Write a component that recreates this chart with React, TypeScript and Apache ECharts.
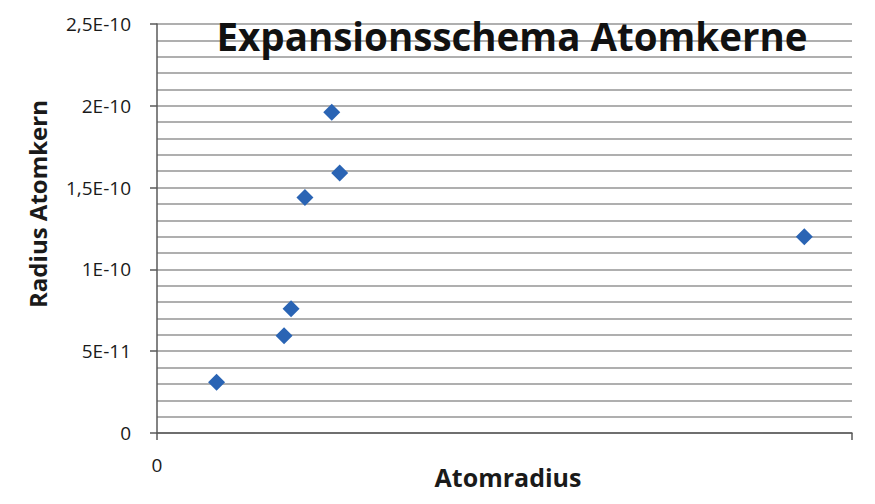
import React, { useEffect, useRef } from "react";
import * as echarts from "echarts";

const titleText = "Expansionsschema Atomkerne";
const xAxisTitle = "Atomradius";
const yAxisTitle = "Radius Atomkern";
// Atomradius (m) (x axis shows only its 0 label)
const atomRadius = [0.3e-10, 0.64e-10, 0.675e-10, 0.745e-10, 0.88e-10, 0.92e-10, 3.26e-10];
// Radius Atomkern (m)
const nucleusRadius = [3.1e-11, 5.95e-11, 7.6e-11, 1.44e-10, 1.96e-10, 1.59e-10, 1.2e-10];
const yTicks = ["0", "5E-11", "1E-10", "1,5E-10", "2E-10", "2,5E-10"];
const xMax = 3.5e-10;
const yMax = 2.5e-10;
const yStep = 5e-11;

const FONT = "'Open Sans', Lato, sans-serif";

export default function App() {
  const ref = useRef<HTMLDivElement>(null);
  useEffect(() => {
    const chart = echarts.init(ref.current!, null, { renderer: "svg" });
    const points = atomRadius.map((x, i) => [x, nucleusRadius[i]]);
    chart.setOption({
      animation: false,
      backgroundColor: "#ffffff",
      grid: { left: 157, right: 23, top: 24, bottom: 71 },
      xAxis: {
        type: "value",
        min: 0,
        max: xMax,
        interval: xMax,
        axisLine: { show: true, lineStyle: { color: "#5a5a5a", width: 1.5 } },
        axisTick: { show: true, length: 7, lineStyle: { color: "#5a5a5a", width: 1.5 } },
        axisLabel: {
          formatter: (v: number) => (v === 0 ? "0" : ""),
          color: "#1a1a1a",
          fontFamily: FONT,
          fontSize: 19,
          margin: 22,
        },
        splitLine: { show: false },
      },
      yAxis: {
        type: "value",
        min: 0,
        max: yMax,
        interval: yStep,
        axisLine: { show: true, lineStyle: { color: "#5a5a5a", width: 1.5 } },
        axisTick: { show: true, length: 7, lineStyle: { color: "#5a5a5a", width: 1.5 } },
        axisLabel: {
          formatter: (v: number) => {
            const idx = Math.round(v / yStep);
            return yTicks[idx] ?? "";
          },
          color: "#1a1a1a",
          fontFamily: FONT,
          fontSize: 19,
          margin: 26,
        },
        splitLine: { show: true, lineStyle: { color: "#959595", width: 1.5 } },
        minorTick: { show: false, splitNumber: 5 },
        minorSplitLine: { show: true, lineStyle: { color: "#959595", width: 1.5 } },
      },
      graphic: [
        {
          type: "text",
          x: 512,
          y: 36,
          style: {
            text: titleText,
            fontFamily: FONT,
            fontWeight: "bold",
            fontSize: 38.5,
            fill: "#111",
            textAlign: "center",
            textVerticalAlign: "middle",
          },
          z: 100,
        },
        {
          type: "text",
          x: 37,
          y: 204,
          rotation: Math.PI / 2,
          style: {
            text: yAxisTitle,
            fontFamily: FONT,
            fontWeight: "bold",
            fontSize: 24,
            fill: "#1a1a1a",
            textAlign: "center",
            textVerticalAlign: "middle",
          },
        },
        {
          type: "text",
          x: 508,
          y: 477,
          style: {
            text: xAxisTitle,
            fontFamily: FONT,
            fontWeight: "bold",
            fontSize: 25,
            fill: "#1a1a1a",
            textAlign: "center",
            textVerticalAlign: "middle",
          },
        },
      ],
      series: [
        {
          type: "scatter",
          data: points,
          symbol: "diamond",
          symbolSize: 17,
          itemStyle: { color: "#2a64b4", opacity: 1 },
          z: 10,
        },
      ],
    });
    return () => chart.dispose();
  }, []);
  return <div ref={ref} style={{ width: 875, height: 504, position: "absolute", left: 0, top: 0 }} />;
}
